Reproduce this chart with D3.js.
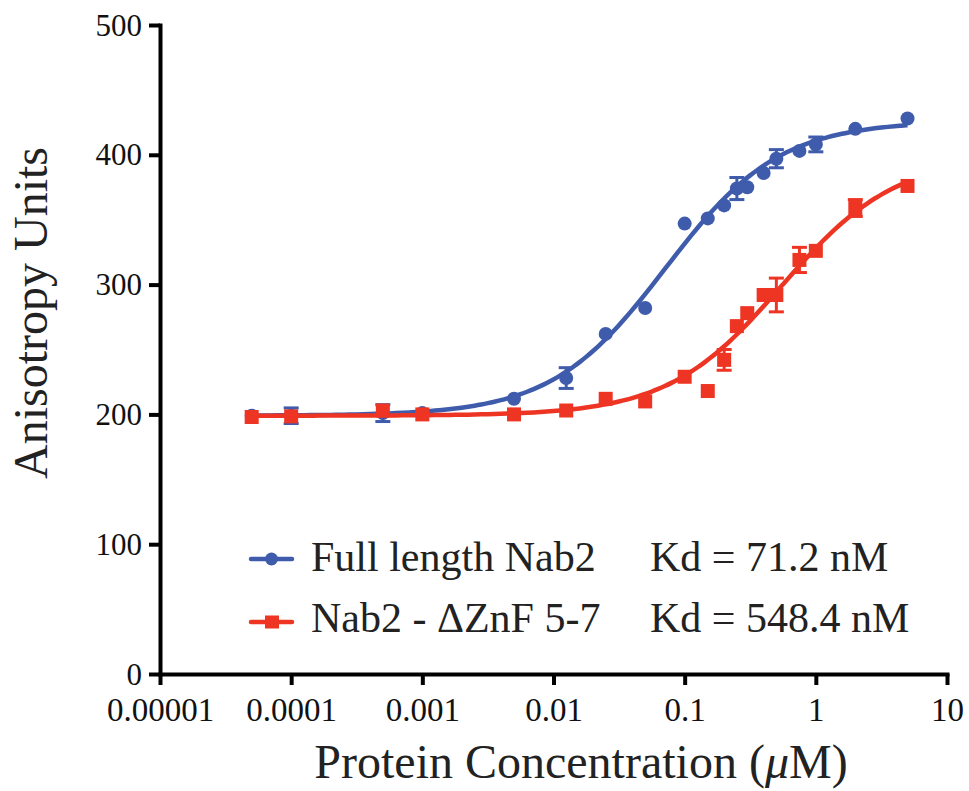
<!DOCTYPE html>
<html>
<head>
<meta charset="utf-8">
<script src="https://cdn.jsdelivr.net/npm/d3@7"></script>
<style>
    body { margin: 0; background: #fff; }
    .axis-label { font-family: "Liberation Serif", "Times New Roman", serif; font-size: 48px; fill: #222; }
    .legend-text { font-family: "Liberation Serif", "Times New Roman", serif; font-size: 42px; fill: #222; }
</style>
</head>
<body>
<div class="vis"></div>
<script>
// concentrations (uM) shared by both series
const concentrations = [0.00005, 0.0001, 0.0005, 0.001, 0.005, 0.0125, 0.025, 0.05, 0.1, 0.15, 0.2, 0.25, 0.3, 0.4, 0.5, 0.75, 1, 2, 5];

const fullLengthValues = [199, 199, 201, 201, 212, 228, 262, 282, 347, 351, 361, 374, 375, 386, 397, 403, 408, 420, 428];
const fullLengthErrors = [0, 6, 6.5, 0, 0, 8, 0, 0, 0, 0, 0, 8.5, 0, 0, 7, 0, 5.7, 0, 0];

const deltaZnfValues = [198, 198.5, 203, 200, 200, 203, 212, 210, 229, 218, 242, 268, 278, 292, 292, 319, 326, 359, 376];
const deltaZnfErrors = [0, 0, 0, 0, 0, 0, 0, 0, 0, 0, 8, 0, 0, 0, 13, 9.7, 0, 6.5, 0];

// one-site binding fits: Kd from the legend, plateaus
const seriesNames = ["Full length Nab2", "Nab2 - \u0394ZnF 5-7"];
const kdLabels = ["Kd = 71.2 nM", "Kd = 548.4 nM"];
const fitKd = [0.0712, 0.5484];
const fitBottom = [199, 199];
const fitTop = [426, 399];

const xTickValues = [0.00001, 0.0001, 0.001, 0.01, 0.1, 1, 10];
const xTickLabels = ["0.00001", "0.0001", "0.001", "0.01", "0.1", "1", "10"];
const yTickValues = [0, 100, 200, 300, 400, 500];

const colours = ["#3f5bab", "#ee3524"];

const svgWidth = 969;
const svgHeight = 791;

var margin = {
    top: 25,
    right: 22,
    left: 160,
    bottom: 117
};

var innerWidth = svgWidth - margin.left - margin.right;
var innerHeight = svgHeight - margin.top - margin.bottom;

const svg = d3.select('.vis')
    .append('svg')
        .attr('width', svgWidth)
        .attr('height', svgHeight);

const graph = svg.append('g')
    .attr('transform', `translate(${margin.left}, ${margin.top})`);

var xScale = d3.scaleLog()
    .domain([0.00001, 10])
    .range([0, innerWidth]);

var yScale = d3.scaleLinear()
    .domain([0, 500])
    .range([innerHeight, 0]);

// axes
var xAxis = d3.axisBottom(xScale)
    .tickValues(xTickValues)
    .tickFormat((d, i) => xTickLabels[i])
    .tickSize(11)
    .tickSizeOuter(0);

var callxAxis = graph.append('g')
    .attr('transform', `translate(0, ${innerHeight})`)
    .call(xAxis);

var yAxis = d3.axisLeft(yScale)
    .tickValues(yTickValues)
    .tickSize(11)
    .tickSizeOuter(0);

var callyAxis = graph.append('g')
    .call(yAxis);

[callxAxis, callyAxis].forEach(function (ax) {
    ax.attr('font-family', '"Liberation Serif", "Times New Roman", serif');
    ax.selectAll('.tick text').attr('fill', '#111');
    ax.select('.domain').attr('stroke', '#000').attr('stroke-width', 4).attr('stroke-linecap', 'square');
    ax.selectAll('.tick line').attr('stroke', '#000').attr('stroke-width', 4);
});

// plain pixel offsets for the tick labels instead of em shifts
callxAxis.attr('font-size', 33);
callxAxis.selectAll('.tick text').attr('dy', null).attr('y', 47);
callyAxis.attr('font-size', 31);
callyAxis.selectAll('.tick text').attr('dy', null).attr('x', -18).attr('y', 10);

svg.append('text')
    .attr('class', 'axis-label')
    .attr('text-anchor', 'middle')
    .attr('x', 581)
    .attr('y', 778)
    .text('Protein Concentration (')
    .append('tspan').attr('font-style', 'italic').text('\u03bc')
    .select(function () { return this.parentNode; })
    .append('tspan').text('M)');

svg.append('text')
    .attr('class', 'axis-label')
    .attr('text-anchor', 'middle')
    .attr('transform', 'rotate(-90)')
    .attr('x', -313)
    .attr('y', 47)
    .text('Anisotropy Units');

// series
var allValues = [fullLengthValues, deltaZnfValues];
var allErrors = [fullLengthErrors, deltaZnfErrors];

var line = d3.line()
    .x(d => xScale(d[0]))
    .y(d => yScale(d[1]))
    .curve(d3.curveBasis);

var curveX = d3.range(0, 101).map(i => Math.pow(10, Math.log10(0.00005) + i * (Math.log10(5) - Math.log10(0.00005)) / 100));

allValues.forEach(function (values, s) {
    var colour = colours[s];
    var g = graph.append('g');

    var fit = curveX.map(x => [x, fitBottom[s] + (fitTop[s] - fitBottom[s]) * x / (fitKd[s] + x)]);
    g.append('path')
        .datum(fit)
        .attr('fill', 'none')
        .attr('stroke', colour)
        .attr('stroke-width', 4.5)
        .attr('d', line);

    var pts = concentrations.map((c, i) => ({ x: c, y: values[i], e: allErrors[s][i] }));

    var bars = g.selectAll('.err')
        .data(pts.filter(d => d.e > 0))
        .enter().append('g')
            .attr('stroke', colour)
            .attr('stroke-width', 3);
    bars.append('line')
        .attr('x1', d => xScale(d.x)).attr('x2', d => xScale(d.x))
        .attr('y1', d => yScale(d.y - d.e)).attr('y2', d => yScale(d.y + d.e));
    bars.append('line')
        .attr('x1', d => xScale(d.x) - 7.5).attr('x2', d => xScale(d.x) + 7.5)
        .attr('y1', d => yScale(d.y + d.e)).attr('y2', d => yScale(d.y + d.e));
    bars.append('line')
        .attr('x1', d => xScale(d.x) - 7.5).attr('x2', d => xScale(d.x) + 7.5)
        .attr('y1', d => yScale(d.y - d.e)).attr('y2', d => yScale(d.y - d.e));

    if (s === 0) {
        g.selectAll('circle')
            .data(pts)
            .enter().append('circle')
                .attr('cx', d => xScale(d.x))
                .attr('cy', d => yScale(d.y))
                .attr('r', 7)
                .attr('fill', colour);
    } else {
        g.selectAll('rect')
            .data(pts)
            .enter().append('rect')
                .attr('x', d => xScale(d.x) - 7)
                .attr('y', d => yScale(d.y) - 7)
                .attr('width', 14)
                .attr('height', 14)
                .attr('fill', colour);
    }
});

// legend
var legendRows = [559, 622];
seriesNames.forEach(function (name, i) {
    var lg = svg.append('g').attr('transform', `translate(0, ${legendRows[i]})`);
    lg.append('line')
        .attr('x1', 251).attr('x2', 292)
        .attr('stroke', colours[i])
        .attr('stroke-width', 4.5)
        .attr('stroke-linecap', 'round');
    if (i === 0) {
        lg.append('circle').attr('cx', 271.5).attr('r', 6.5).attr('fill', colours[i]);
    } else {
        lg.append('rect').attr('x', 265).attr('y', -6.5).attr('width', 14).attr('height', 13).attr('fill', colours[i]);
    }
    lg.append('text')
        .attr('class', 'legend-text')
        .attr('x', 311)
        .attr('y', 12 + i * -2)
        .text(name);
    lg.append('text')
        .attr('class', 'legend-text')
        .attr('x', 650)
        .attr('y', 12 + i * -2)
        .text(kdLabels[i]);
});
</script>
</body>
</html>
